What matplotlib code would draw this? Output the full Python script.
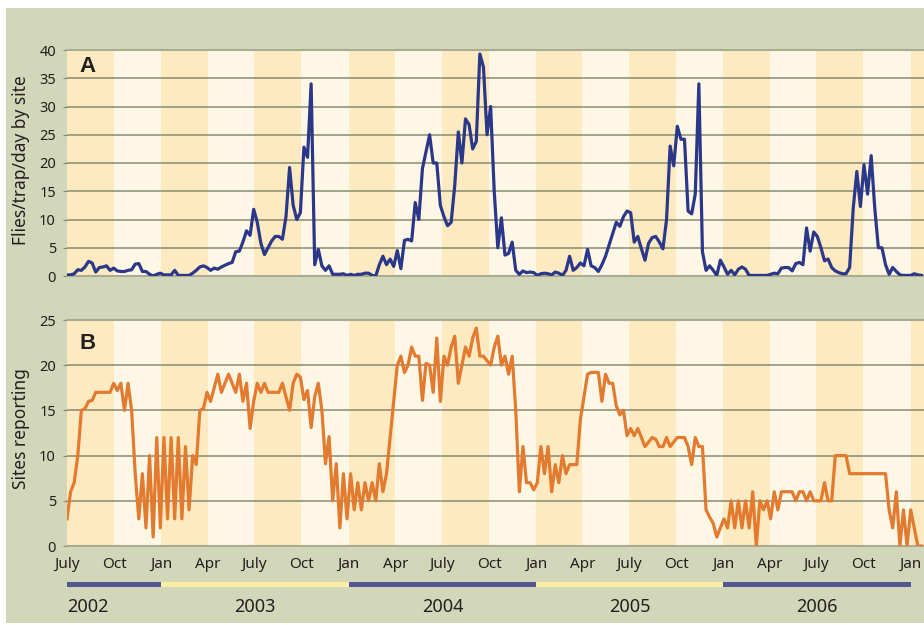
import numpy as np
import pandas as pd
import matplotlib
matplotlib.use('Agg')
import matplotlib.pyplot as plt

# weekly series starting 1 July 2002
start = '2002-07-01'

flies = [0.2, 0.2, 0.4, 1.1, 1.0, 1.6, 2.6, 2.3, 0.7, 1.5,
         1.6, 1.8, 1.0, 1.4, 0.9, 0.8, 0.8, 1.0, 1.1, 2.1,
         2.2, 0.8, 0.8, 0.3, 0.0, 0.3, 0.5, 0.2, 0.2, 0.2,
         1.0, 0.1, 0.1, 0.1, 0.1, 0.5, 1.0, 1.6, 1.8, 1.5,
         1.0, 1.4, 1.2, 1.6, 1.9, 2.2, 2.4, 4.3, 4.4, 6.0,
         8.0, 7.2, 11.8, 9.5, 5.8, 3.8, 5.0, 6.2, 7.0, 7.0,
         6.5, 10.5, 19.2, 12.5, 10.0, 11.2, 22.8, 21.0, 34.0, 2.0,
         4.7, 1.8, 1.0, 1.8, 0.3, 0.3, 0.3, 0.4, 0.1, 0.3,
         0.1, 0.3, 0.3, 0.5, 0.5, 0.1, 0.0, 2.0, 3.5, 2.0,
         3.0, 1.7, 4.5, 1.3, 6.3, 6.5, 6.2, 13.0, 10.0, 19.0,
         22.0, 25.0, 20.0, 20.0, 12.5, 10.5, 8.9, 9.5, 16.0, 25.5,
         20.0, 27.8, 26.8, 22.5, 23.8, 39.3, 37.0, 25.0, 30.0, 15.0,
         5.0, 10.3, 3.7, 4.0, 6.0, 1.0, 0.3, 0.9, 0.6, 0.7,
         0.6, 0.1, 0.4, 0.5, 0.4, 0.2, 0.7, 0.5, 0.1, 1.0,
         3.5, 1.0, 1.5, 2.3, 1.8, 4.7, 1.8, 1.5, 0.8, 2.0,
         3.5, 5.5, 7.5, 9.5, 8.8, 10.5, 11.5, 11.2, 6.0, 7.0,
         4.8, 2.8, 5.8, 6.8, 7.0, 6.0, 4.8, 10.0, 23.0, 19.5,
         26.5, 24.2, 24.2, 11.5, 11.0, 14.5, 34.0, 4.3, 1.0, 1.8,
         1.0, 0.1, 2.8, 1.6, 0.3, 1.0, 0.2, 1.2, 1.6, 1.2,
         0.1, 0.1, 0.1, 0.1, 0.1, 0.1, 0.3, 0.5, 0.4, 1.4,
         1.5, 1.5, 0.9, 2.2, 2.4, 2.0, 8.5, 4.4, 7.8, 7.0,
         5.0, 2.7, 3.0, 1.5, 0.9, 0.6, 0.4, 0.4, 1.5, 12.0,
         18.5, 12.3, 19.7, 14.5, 21.3, 12.0, 5.0, 5.0, 2.0, 0.3,
         1.5, 0.8, 0.2, 0.1, 0.1, 0.1, 0.4, 0.2, 0.1]

sites = [3, 6, 7, 10, 15, 15.2, 16, 16.1, 17, 17,
         17, 17, 17, 18, 17.2, 18, 15, 18, 15, 8,
         3, 8, 2, 10, 1, 12, 2, 12, 3, 12,
         3, 12, 3, 11, 4, 10, 9, 15, 15.2, 17,
         16, 17.5, 19, 17, 18, 19, 18, 17, 19, 16,
         18, 13, 16, 18, 17, 18, 17, 17, 17, 17,
         18, 16.5, 15, 18, 19, 18.7, 16.2, 17.2, 13.1, 16.5,
         18, 15, 9.1, 12.1, 5, 9.1, 2, 8, 3, 8,
         4, 7, 4, 7, 5, 7, 5, 9.1, 6, 8,
         12, 16, 20, 21, 19.2, 20, 22, 21, 21, 16.1,
         20.2, 20, 17, 23, 16, 21, 20, 22, 23.2, 18,
         20, 22, 21, 23, 24.1, 21, 21, 20.5, 20, 22,
         23.2, 20, 21, 19, 21, 15, 6, 11, 7, 7,
         6.2, 7, 11, 8, 11, 6, 9, 7, 10, 8,
         9, 9, 9, 14, 16.5, 19, 19.2, 19.2, 19.2, 16,
         19, 18, 18, 15.5, 14.5, 15, 12.2, 13, 12.2, 13,
         12, 11, 11.5, 12, 11.8, 11, 11, 12, 11, 11.5,
         12, 12, 12, 11, 9, 12, 11, 11, 4, 3.2,
         2.5, 1, 2, 3, 2, 5, 2, 5, 2, 5,
         2, 6, 0, 5, 4, 5, 3, 6, 4, 6,
         6, 6, 6, 5, 6, 6, 5, 6, 5, 5,
         5, 7, 5, 5, 10, 10, 10, 10, 8, 8,
         8, 8, 8, 8, 8, 8, 8, 8, 8, 4,
         2, 6, 0, 4, 0, 4, 2, 0, 0]

years = [2002, 2003, 2004, 2005, 2006]
month_names = {1: 'Jan', 4: 'Apr', 7: 'July', 10: 'Oct'}

weeks = pd.date_range(start, periods=len(flies), freq='7D')
quarters = pd.date_range('2002-07-01', '2007-04-01', freq='QS-JAN')
x_min, x_max = pd.Timestamp('2002-07-01'), pd.Timestamp('2007-01-27')

# colours
bg = '#d3d7b9'
stripe1 = '#fdeac0'
stripe2 = '#fef7e6'
gridc = '#868b70'
textc = '#231f20'

plt.rcParams['font.family'] = ['Noto Sans', 'DejaVu Sans']

fig = plt.figure(figsize=(9.24, 6.25), dpi=100, facecolor='white')
fig.patches.append(plt.Rectangle((6/924, 2/625), 1, 615/625, transform=fig.transFigure,
                                 facecolor=bg, edgecolor='none', zorder=-10))

axA = fig.add_axes([67/924, 1-276/625, 857/924, 226/625])
axB = fig.add_axes([67/924, 1-546/625, 857/924, 226/625])

for ax, data, col, top, letter, ly in [(axA, flies, '#2b3789', 40, 'A', 0.929),
                                       (axB, sites, '#e27a2f', 25, 'B', 0.896)]:
    for i in range(len(quarters)-1):
        ax.axvspan(quarters[i], quarters[i+1], color=stripe1 if i % 2 == 0 else stripe2,
                   lw=0, zorder=0)
    ax.plot(weeks, data, color=col, lw=2.3, solid_joinstyle='round', zorder=3)
    ax.set_xlim(x_min, x_max)
    ax.set_ylim(0, top)
    ax.set_yticks(np.arange(0, top+1, 5))
    ax.grid(axis='y', color=gridc, lw=1.1, zorder=1)
    ax.set_axisbelow(True)
    for s in ['left', 'right']:
        ax.spines[s].set_visible(False)
    for s in ['top', 'bottom']:
        ax.spines[s].set_color('#a9ab93')
        ax.spines[s].set_linewidth(1.5)
    ax.tick_params(axis='y', length=3, color=gridc, pad=5, labelsize=10.5, labelcolor=textc)
    ax.text(0.0245, ly, letter, transform=ax.transAxes, fontsize=16, fontweight='bold',
            family=['Liberation Sans', 'DejaVu Sans'], color=textc, ha='center', va='center')

axA.set_xticks([])
axB.set_xticks(quarters[:-1])
axB.set_xticklabels([month_names[d.month] for d in quarters[:-1]])
axB.tick_params(axis='x', length=0, pad=8, labelsize=11, labelcolor=textc)

fig.text(21/924, 1-160/625, 'Flies/trap/day by site', rotation=90, ha='center', va='center',
         fontsize=12.5, color=textc)
fig.text(21/924, 1-429/625, 'Sites reporting', rotation=90, ha='center', va='center',
         fontsize=12.5, color=textc)

# year bars
axY = fig.add_axes([67/924, 1-620/625, 857/924, 45/625])
axY.set_xlim(x_min, x_max)
axY.set_ylim(0, 1)
axY.axis('off')
for i, yr in enumerate(years):
    a = max(pd.Timestamp(f'{yr}-01-01'), x_min)
    b = pd.Timestamp(f'{yr+1}-01-01')
    axY.fill_between([a, b], 0.733, 0.844, color='#57578f' if i % 2 == 0 else '#fdeea6', lw=0)
    if i == 0:
        axY.text(a, 0.29, str(yr), ha='left', va='center', fontsize=13, color=textc)
    else:
        axY.text(a + (b - a) / 2, 0.29, str(yr), ha='center', va='center', fontsize=13, color=textc)

fig.savefig('out.png', dpi=100, facecolor=fig.get_facecolor())
